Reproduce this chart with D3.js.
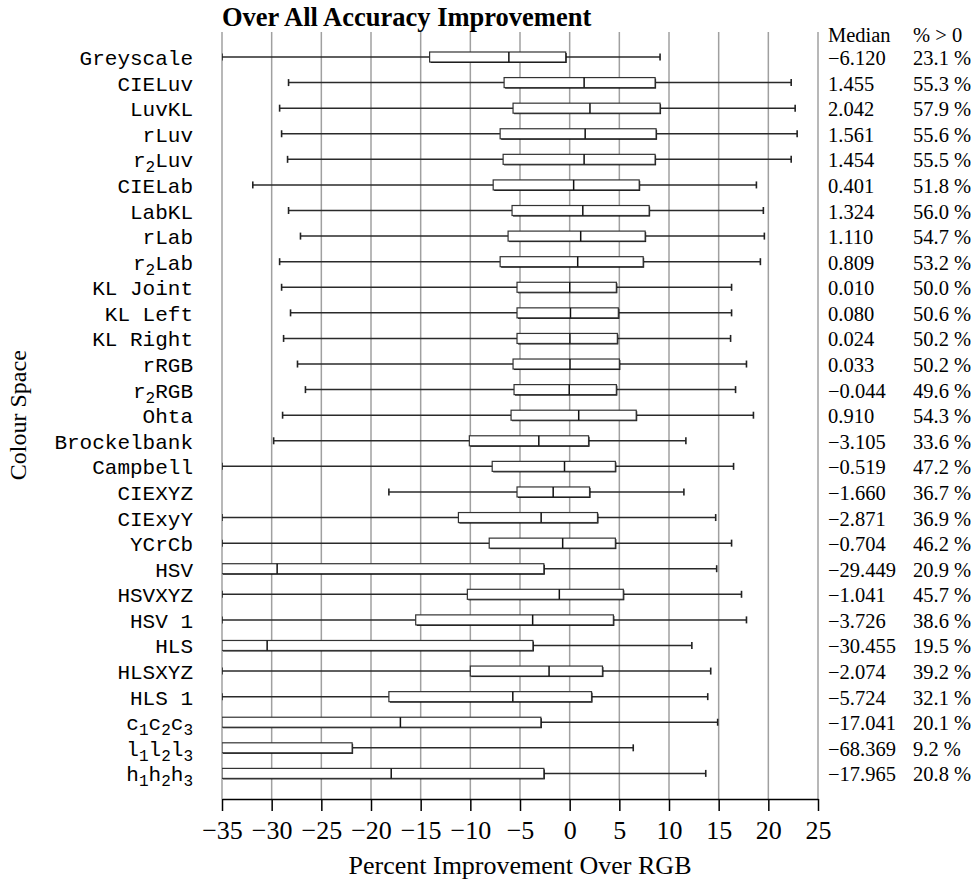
<!DOCTYPE html>
<html>
<head>
<meta charset="utf-8">
<script src="https://cdn.jsdelivr.net/npm/d3@7"></script>
<style>
  body { margin: 0; background: #fff; }
  text { fill: #000; }
</style>
</head>
<body>
<svg id="chart" width="974" height="882"></svg>
<script>
// Colour spaces, top to bottom ("_n" marks a subscript digit)
const spaces = [
  'Greyscale', 'CIELuv', 'LuvKL', 'rLuv', 'r_2Luv', 'CIELab', 'LabKL', 'rLab', 'r_2Lab',
  'KL Joint', 'KL Left', 'KL Right', 'rRGB', 'r_2RGB', 'Ohta', 'Brockelbank', 'Campbell',
  'CIEXYZ', 'CIExyY', 'YCrCb', 'HSV', 'HSVXYZ', 'HSV 1', 'HLS', 'HLSXYZ', 'HLS 1',
  'c_1c_2c_3', 'l_1l_2l_3', 'h_1h_2h_3',
];

// Box plot values (anything left of -35 is cut off at the axis)
const lowWhisker = [
  -35, -28.3, -29.2, -29.0, -28.4, -31.9, -28.3, -27.1, -29.2,
  -29.0, -28.1, -28.8, -27.4, -26.6, -28.9, -29.8, -35,
  -18.2, -35, -35, -35, -35, -35, -35, -35, -35,
  -35, -35, -35,
];
const q1 = [
  -14.1, -6.6, -5.7, -7.0, -6.7, -7.7, -5.8, -6.2, -7.0,
  -5.3, -5.3, -5.3, -5.7, -5.6, -5.9, -10.1, -7.8,
  -5.3, -11.2, -8.1, -35, -10.3, -15.5, -35, -10.0, -18.2,
  -35, -35, -35,
];
const q3 = [
  -0.4, 8.6, 9.1, 8.7, 8.6, 7.0, 8.0, 7.6, 7.4,
  4.7, 4.9, 4.8, 5.0, 4.7, 6.7, 1.9, 4.6,
  2.0, 2.8, 4.6, -2.6, 5.4, 4.4, -3.7, 3.3, 2.2,
  -2.9, -21.9, -2.6,
];
const highWhisker = [
  9.1, 22.3, 22.7, 22.9, 22.3, 18.8, 19.5, 19.6, 19.2,
  16.3, 16.3, 16.2, 17.8, 16.7, 18.5, 11.7, 16.5,
  11.5, 14.7, 16.3, 14.8, 17.3, 17.8, 12.3, 14.2, 13.9,
  14.9, 6.4, 13.7,
];

// Table on the right
const medians = [
  -6.120, 1.455, 2.042, 1.561, 1.454, 0.401, 1.324, 1.110, 0.809,
  0.010, 0.080, 0.024, 0.033, -0.044, 0.910, -3.105, -0.519,
  -1.660, -2.871, -0.704, -29.449, -1.041, -3.726, -30.455, -2.074, -5.724,
  -17.041, -68.369, -17.965,
];
const pctAbove = [
  23.1, 55.3, 57.9, 55.6, 55.5, 51.8, 56.0, 54.7, 53.2,
  50.0, 50.6, 50.2, 50.2, 49.6, 54.3, 33.6, 47.2,
  36.7, 36.9, 46.2, 20.9, 45.7, 38.6, 19.5, 39.2, 32.1,
  20.1, 9.2, 20.8,
];

const xTicks = d3.range(-35, 26, 5);

const SERIF = "'Liberation Serif', 'Times New Roman', serif";
const MONO = "'Liberation Mono', 'Courier New', monospace";

const svg = d3.select('#chart');

const x = d3.scaleLinear().domain([-35, 25]).range([222, 818]);
const y = d3.scalePoint().domain(d3.range(spaces.length)).range([57, 773.4]);

const plotTop = 32;
const plotBottom = 799;
const boxH = 10;

// Grid
svg.append('g')
  .selectAll('line')
  .data(xTicks)
  .join('line')
  .attr('x1', (d) => x(d))
  .attr('x2', (d) => x(d))
  .attr('y1', plotTop)
  .attr('y2', plotBottom)
  .attr('stroke', '#a0a0a0')
  .attr('stroke-width', 1.5);

// Boxes are clipped to the axis range
svg.append('defs')
  .append('clipPath')
  .attr('id', 'plot-clip')
  .append('rect')
  .attr('x', x(-35))
  .attr('y', plotTop)
  .attr('width', x(25) - x(-35))
  .attr('height', plotBottom - plotTop);

const rows = svg.append('g')
  .attr('clip-path', 'url(#plot-clip)')
  .selectAll('g')
  .data(spaces.map((name, i) => ({
    i,
    lo: lowWhisker[i],
    q1: q1[i],
    med: medians[i],
    q3: q3[i],
    hi: highWhisker[i],
  })))
  .join('g')
  .attr('transform', (d) => `translate(0,${y(d.i)})`);

// Whiskers
rows.append('line')
  .attr('x1', (d) => x(d.lo))
  .attr('x2', (d) => x(d.hi))
  .attr('stroke', '#2a2a2a')
  .attr('stroke-width', 1.5);

rows.selectAll('.cap')
  .data((d) => [d.lo, d.hi])
  .join('line')
  .attr('class', 'cap')
  .attr('x1', (v) => x(v))
  .attr('x2', (v) => x(v))
  .attr('y1', -3.5)
  .attr('y2', 3.5)
  .attr('stroke', '#222')
  .attr('stroke-width', 1.6);

// Box shadow, then box
rows.append('rect')
  .attr('x', (d) => x(d.q1) + 1)
  .attr('y', -boxH / 2 + 1)
  .attr('width', (d) => x(d.q3) - x(d.q1))
  .attr('height', boxH)
  .attr('fill', '#000');

rows.append('rect')
  .attr('x', (d) => x(d.q1))
  .attr('y', -boxH / 2)
  .attr('width', (d) => x(d.q3) - x(d.q1))
  .attr('height', boxH)
  .attr('fill', '#fff')
  .attr('stroke', '#333')
  .attr('stroke-width', 1.2);

rows.append('line')
  .attr('x1', (d) => x(d.med))
  .attr('x2', (d) => x(d.med))
  .attr('y1', -boxH / 2)
  .attr('y2', boxH / 2)
  .attr('stroke', '#111')
  .attr('stroke-width', 1.5);

// X axis
const axis = svg.append('g')
  .attr('transform', `translate(0,${plotBottom})`)
  .call(d3.axisBottom(x).tickValues(xTicks).tickSize(12).tickPadding(10).tickSizeOuter(0));
axis.select('.domain').attr('stroke', '#000').attr('stroke-width', 1.5);
axis.selectAll('.tick line').attr('stroke', '#000').attr('stroke-width', 1.5);
axis.selectAll('.tick text')
  .attr('font-family', SERIF)
  .attr('font-size', 26);

svg.append('text')
  .attr('x', x(-5))
  .attr('y', 874)
  .attr('text-anchor', 'middle')
  .attr('font-family', SERIF)
  .attr('font-size', 26)
  .text('Percent Improvement Over RGB');

// Category labels with subscripts
const labels = svg.append('g')
  .selectAll('text')
  .data(spaces)
  .join('text')
  .attr('x', 193)
  .attr('y', (d, i) => y(i) + 8)
  .attr('text-anchor', 'end')
  .attr('font-family', MONO)
  .attr('font-size', 21);

labels.each(function (name) {
  const t = d3.select(this);
  let shift = 0;
  name.split(/(_\d)/).filter((s) => s).forEach((part) => {
    const sub = part[0] === '_';
    const target = sub ? 5 : 0;
    const span = t.append('tspan').text(sub ? part[1] : part);
    if (sub) span.attr('font-size', 16);
    if (target !== shift) span.attr('dy', target - shift);
    shift = target;
  });
});

svg.append('text')
  .attr('transform', `translate(26,${y(14)}) rotate(-90)`)
  .attr('text-anchor', 'middle')
  .attr('font-family', SERIF)
  .attr('font-size', 24)
  .text('Colour Space');

// Title
svg.append('text')
  .attr('x', 222)
  .attr('y', 26)
  .attr('font-family', SERIF)
  .attr('font-weight', 'bold')
  .attr('font-size', 26.5)
  .text('Over All Accuracy Improvement');

// Table
const fmtMed = d3.format('.3f');
const fmtPct = d3.format('.1f');
const table = svg.append('g').attr('font-family', SERIF).attr('font-size', 20.5);

table.append('text').attr('x', 828).attr('y', 42).text('Median');
table.append('text').attr('x', 913).attr('y', 42).text('% > 0');

table.selectAll('.med')
  .data(medians)
  .join('text')
  .attr('class', 'med')
  .attr('x', 828)
  .attr('y', (d, i) => y(i) + 8)
  .text((d) => fmtMed(d));

table.selectAll('.pct')
  .data(pctAbove)
  .join('text')
  .attr('class', 'pct')
  .attr('x', 913)
  .attr('y', (d, i) => y(i) + 8)
  .text((d) => `${fmtPct(d)} %`);
</script>
</body>
</html>
